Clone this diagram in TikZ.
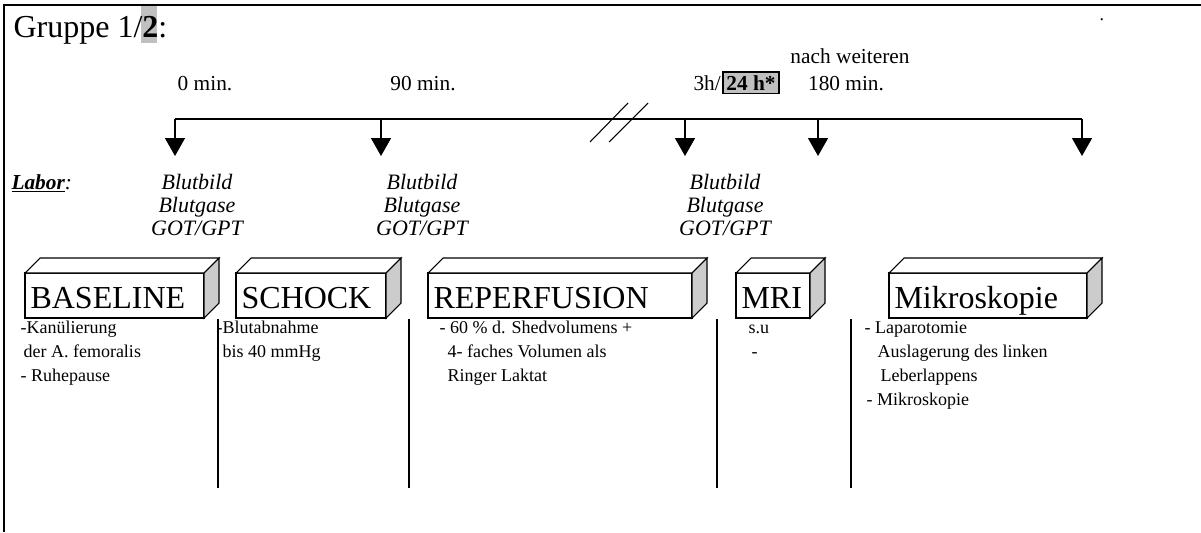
\documentclass[tikz,border=0pt]{standalone}
\usepackage{fontspec}
\setmainfont{Liberation Serif}
\usetikzlibrary{arrows.meta}
\definecolor{hlgray}{HTML}{C0C0C0}
\definecolor{sidegray}{HTML}{CCCCCC}

\begin{document}
\begin{tikzpicture}[x=0.75pt, y=-0.75pt, line width=0.8pt,
	big/.style={font=\fontsize{24}{28}\selectfont, inner sep=0pt, anchor=base west},
	time/.style={font=\fontsize{16}{19}\selectfont, inner sep=0pt, anchor=base},
	lab/.style={font=\fontsize{16.5}{17.25}\selectfont\itshape, inner sep=0pt, align=center, anchor=north},
	body/.style={font=\fontsize{13.5}{17}\selectfont, inner sep=0pt, anchor=base west},
	tip/.style={line width=1.1pt, -{Triangle[width=15pt, length=13.5pt]}}]

	\useasboundingbox (0,0) rectangle (1201,532);
	\draw[line width=1.5pt] (3.5,532) -- (3.5,4.5) -- (1201,4.5);

	% title
	\fill[hlgray] (141,6) rectangle (157,43);
	\node[big] (title) at (13,37) {Gruppe 1/\textbf{2}:};
	\node[body] (dot) at (1099,20) {.};

	% time axis
	\node[time] (m0) at (205,90) {0 min.};
	\node[time] (m90) at (423,90) {90 min.};
	\node[time, anchor=base west] (m3h) at (693,90) {3h/};
	\node[time, draw, fill=hlgray, line width=1.1pt, inner sep=2.5pt] (m24) at (751,90) {\textbf{24 h*}};
	\node[time] (nach) at (850,63) {nach weiteren};
	\node[time] (m180) at (846,90) {180 min.};

	\foreach \n/\x in {1/175,2/381,3/685,4/818,5/1082} {
		\coordinate (t\n) at (\x,119);
		\coordinate (a\n) at (\x,156);
		\draw[tip] (t\n) -- (a\n);
	}
	\draw[line width=1.1pt] (t1) -- (t5);
	\draw (590,142) -- (628,103);
	\draw (609,142) -- (648,103);

	% labor
	\node[time, anchor=base west, font=\fontsize{16}{19}\selectfont\itshape] (labor) at (11,189) {\underline{\textbf{Labor}}:};
	\node[lab] (lab1) at (197,174) {Blutbild\\Blutgase\\GOT/GPT};
	\node[lab] (lab2) at (422,174) {Blutbild\\Blutgase\\GOT/GPT};
	\node[lab] (lab3) at (725,174) {Blutbild\\Blutgase\\GOT/GPT};

	% phases
	\foreach \n/\a/\b/\txt in {baseline/25/204/BASELINE, schock/236/386/SCHOCK, reperf/428/692/REPERFUSION, mri/736/810/MRI, mikro/889/1087/Mikroskopie} {
		\draw[fill=white] (\a,273) rectangle (\b,318);
		\draw[fill=white] (\a,273) -- ++(15,-15) -- (\b+15,258) -- (\b,273) -- cycle;
		\draw[fill=sidegray] (\b,273) -- (\b+15,258) -- (\b+15,303) -- (\b,318) -- cycle;
		\node[big] (\n) at (\a+5,308) {\txt};
	}
	\foreach \x in {218,409,717,851}
		\draw[line width=1.1pt] (\x,319) -- (\x,488);

	\node[body] (b1) at (20,333) {-Kanülierung};
	\node[body] (b2) at (23,357) {der A. femoralis};
	\node[body] (b3) at (20,381) {- Ruhepause};
	\node[body] (s1) at (216,333) {-Blutabnahme};
	\node[body] (s2) at (222,357) {bis 40 mmHg};
	\node[body] (r1) at (439,333) {- 60 \% d. Shedvolumens +};
	\node[body] (r2) at (447,357) {4- faches Volumen als};
	\node[body] (r3) at (447,381) {Ringer Laktat};
	\node[body] (i1) at (748,333) {s.u};
	\node[body] (i2) at (751,357) {-};
	\node[body] (k1) at (864,333) {- Laparotomie};
	\node[body] (k2) at (877,357) {Auslagerung des linken};
	\node[body] (k3) at (880,381) {Leberlappens};
	\node[body] (k4) at (866,405) {- Mikroskopie};

\end{tikzpicture}
\end{document}
